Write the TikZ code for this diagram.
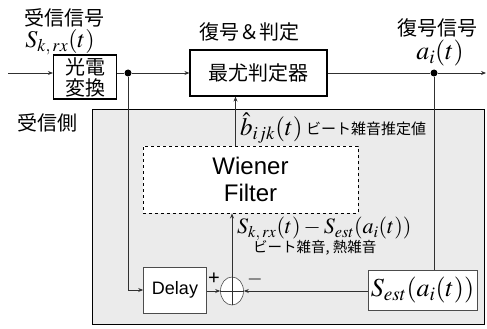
\documentclass[tikz,border=0pt]{standalone}
\usepackage{mathptmx}
\usepackage{fontspec}
\setmainfont{Liberation Sans}
\newfontfamily\jp{Noto Sans CJK JP}
\usetikzlibrary{arrows.meta,positioning,shapes.geometric}
\definecolor{PanelGray}{HTML}{EBEBEB}
\definecolor{Wire}{HTML}{303030}
\newcommand{\setfs}[2]{\fontsize{#1}{#2}\selectfont}

\begin{document}
\begin{tikzpicture}[x=1pt,y=-1pt,
  blk/.style={draw,line width=1.1pt,fill=white,inner sep=0pt,align=center},
  thinblk/.style={draw=black!70,line width=0.6pt,fill=white,inner sep=0pt},
  wire/.style={draw=Wire,line width=0.8pt},
  arr/.style={wire,-{Stealth[length=5pt,width=4pt]}},
  junc/.style={circle,fill=black,inner sep=0pt,minimum size=7pt},
  lbl/.style={inner sep=0pt},
  jptxt/.style={lbl,font=\jp\setfs{20}{22}}]
  \useasboundingbox (0,0) rectangle (487,329);

  % receiver side panel
  \fill[PanelGray] (92,109) rectangle (484,324);
  \draw[line width=1pt] (92,109) rectangle (484,324);

  % main path
  \coordinate (in) at (8,73);
  \coordinate (out) at (486,73);
  \node[blk,minimum width=63,minimum height=44,font=\jp\setfs{20}{21}] (pe) at (85,77) {光電\\変換};
  \node[junc] (j1) at (128,73) {};
  \node[blk,minimum width=137,minimum height=46,font=\jp\setfs{20}{22}] (ml) at (258.5,73) {最尤判定器};
  \node[junc] (j2) at (434,73) {};

  % blocks inside the panel
  \node[blk,dashed,line width=0.9pt,minimum width=215,minimum height=67,font=\setfs{24}{27}] (wf) at (250.5,179.5) {Wiener\\Filter};
  \node[thinblk,minimum width=63,minimum height=46,font=\setfs{18}{20}] (dly) at (175,290) {Delay};
  \node[thinblk,ellipse,minimum width=23,minimum height=28] (sum) at (232,291) {};
  \node[thinblk,minimum width=109,minimum height=40,font=\setfs{26}{28}] (sest) at (422.5,290) {$S_{est}(a_i(t))$};

  % connectors
  \draw[arr] (in) -- (pe.west |- in);
  \draw[wire] (pe.east |- j1) -- (j1);
  \draw[arr] (j1) -- (ml.west |- j1);
  \draw[wire] (ml.east |- j2) -- (j2);
  \draw[arr] (j2) -- (out);
  \draw[arr] (j1) |- (dly.west);
  \draw[wire] (j2) -- (sest.north -| j2);
  \draw[arr] (sest.west |- sum) -- (sum.east);
  \draw[arr] (dly.east |- sum) -- (sum.west);
  \draw[wire] (sum.west) -- (sum.east);
  \draw[arr] (sum.south) -- (sum.south |- wf.south);
  \draw[arr] ([xshift=-15pt]wf.north) -- ([xshift=-15pt]wf.north |- ml.south);

  % labels
  \node[jptxt] (rxlbl) at (64,18) {受信信号};
  \node[lbl,font=\setfs{24}{26}] (rxsig) at (60,42) {$S_{k,\,rx}(t)$};
  \node[jptxt] (declbl) at (249,32) {復号＆判定};
  \node[jptxt] (outlbl) at (437,28) {復号信号};
  \node[lbl,font=\setfs{26}{28}] (outsig) at (440,53) {$a_i(t)$};
  \node[jptxt] (side) at (47,123) {受信側};
  \node[lbl,anchor=west,font=\setfs{25}{27}] (bhat) at (240,128) {$\hat{b}_{ijk}(t)$};
  \node[lbl,anchor=west,font=\jp\setfs{15}{17},right=3pt of bhat.east,yshift=-1pt] (bhattxt) {ビート雑音推定値};
  \node[lbl,anchor=west,font=\setfs{22}{24}] (diff) at (237,229) {$S_{k,\,rx}(t)-S_{est}(a_i(t))$};
  \node[lbl,anchor=west,font=\jp\setfs{14.5}{16}] (noise) at (253,248) {ビート雑音, 熱雑音};
  \node[lbl,font=\setfs{20}{20}] (plus) at (214,279) {+};
  \node[lbl,font=\setfs{20}{20}] (minus) at (255,279) {$-$};
\end{tikzpicture}
\end{document}
